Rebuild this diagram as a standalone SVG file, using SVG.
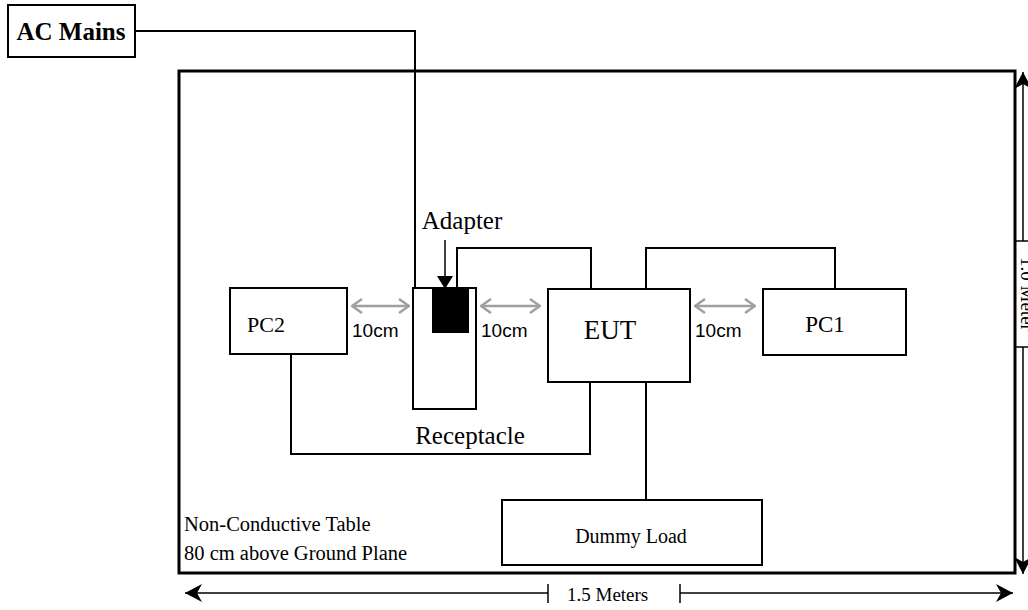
<svg xmlns="http://www.w3.org/2000/svg" width="1028" height="610" viewBox="0 0 1028 610">
<defs>
<style>
.box{fill:#fff;stroke:#000;stroke-width:2}
.ln{fill:none;stroke:#000;stroke-width:2}
.gr{fill:none;stroke:#a0a0a0;stroke-width:2.5}
.t{font-family:"Liberation Serif","Times New Roman",serif;fill:#000}
.s{font-family:"Liberation Sans",Arial,sans-serif;fill:#000}
</style>
<marker id="ga" viewBox="0 0 12 16" refX="11" refY="8" markerWidth="12" markerHeight="16" markerUnits="userSpaceOnUse" orient="auto-start-reverse">
<path d="M1,1 L11,8 L1,15" fill="none" stroke="#a0a0a0" stroke-width="2.5"/>
</marker>
<marker id="ba" viewBox="0 0 20 20" refX="19" refY="10" markerWidth="20" markerHeight="20" markerUnits="userSpaceOnUse" orient="auto-start-reverse">
<path d="M19,10 L2,1 L7,10 L2,19 Z" fill="#000"/>
</marker>
</defs>
<rect width="1028" height="610" fill="#fff"/>
<g id="table">
<rect x="179" y="71" width="836" height="502" fill="none" stroke="#000" stroke-width="3"/>
<text class="t" x="184" y="531" font-size="20.5">Non-Conductive Table</text>
<text class="t" x="184" y="560" font-size="20.5">80 cm above Ground Plane</text>
</g>
<g id="connectors">
<polyline class="ln" points="135,31 415,31 415,288"/>
<polyline class="ln" points="457,288 457,248 591,248 591,289"/>
<polyline class="ln" points="646,289 646,248 835,248 835,289"/>
<polyline class="ln" points="291,354 291,454 590,454 590,382"/>
<line class="ln" x1="646" y1="382" x2="646" y2="500"/>
<line class="gr" x1="352" y1="306" x2="409" y2="306" marker-start="url(#ga)" marker-end="url(#ga)"/>
<line class="gr" x1="481" y1="306" x2="540" y2="306" marker-start="url(#ga)" marker-end="url(#ga)"/>
<line class="gr" x1="695" y1="306" x2="755" y2="306" marker-start="url(#ga)" marker-end="url(#ga)"/>
<line x1="445" y1="240" x2="445" y2="277" stroke="#000" stroke-width="1.5"/>
<polygon points="437,276 453,276 445,289" fill="#000"/>
</g>
<g id="ac-mains">
<rect class="box" x="8" y="5" width="127" height="52"/>
<text class="t" x="71" y="40" text-anchor="middle" font-size="25" font-weight="bold">AC Mains</text>
</g>
<g id="pc2">
<rect class="box" x="230" y="288" width="117" height="66"/>
<text class="t" x="266" y="332" font-size="22" text-anchor="middle">PC2</text>
</g>
<g id="receptacle">
<rect class="box" x="413" y="288" width="63" height="121"/>
<text class="t" x="470" y="444" font-size="25" text-anchor="middle">Receptacle</text>
</g>
<g id="adapter">
<rect x="432" y="289" width="37" height="44" fill="#000"/>
<text class="t" x="462" y="229" font-size="25" text-anchor="middle">Adapter</text>
</g>
<g id="eut">
<rect class="box" x="548" y="289" width="142" height="93"/>
<text class="t" x="610" y="339" font-size="27" text-anchor="middle">EUT</text>
</g>
<g id="pc1">
<rect class="box" x="763" y="289" width="143" height="66"/>
<text class="t" x="825" y="332" font-size="23" text-anchor="middle">PC1</text>
</g>
<g id="dummy-load">
<rect class="box" x="502" y="500" width="260" height="65"/>
<text class="t" x="631" y="543" font-size="20" text-anchor="middle">Dummy Load</text>
</g>
<g id="labels">
<text class="s" x="352" y="337" font-size="19">10cm</text>
<text class="s" x="481" y="337" font-size="19">10cm</text>
<text class="s" x="695" y="337" font-size="19">10cm</text>
</g>
<g id="dim-h">
<line x1="185" y1="593" x2="548" y2="593" stroke="#000" stroke-width="1.5" marker-start="url(#ba)"/>
<line x1="680" y1="593" x2="1013" y2="593" stroke="#000" stroke-width="1.5" marker-end="url(#ba)"/>
<line x1="548" y1="584" x2="548" y2="603" stroke="#000" stroke-width="1.5"/>
<line x1="680" y1="584" x2="680" y2="603" stroke="#000" stroke-width="1.5"/>
<text class="t" x="567" y="601" font-size="19">1.5 Meters</text>
</g>
<g id="dim-v">
<line x1="1023" y1="72" x2="1023" y2="241" stroke="#000" stroke-width="1.5" marker-start="url(#ba)"/>
<line x1="1023" y1="347" x2="1023" y2="574" stroke="#000" stroke-width="1.5" marker-end="url(#ba)"/>
<line x1="1016" y1="241" x2="1030" y2="241" stroke="#000" stroke-width="1.5"/>
<line x1="1016" y1="347" x2="1030" y2="347" stroke="#000" stroke-width="1.5"/>
<text class="t" transform="translate(1021,294) rotate(90)" text-anchor="middle" font-size="19">1.0 Meter</text>
</g>
</svg>
